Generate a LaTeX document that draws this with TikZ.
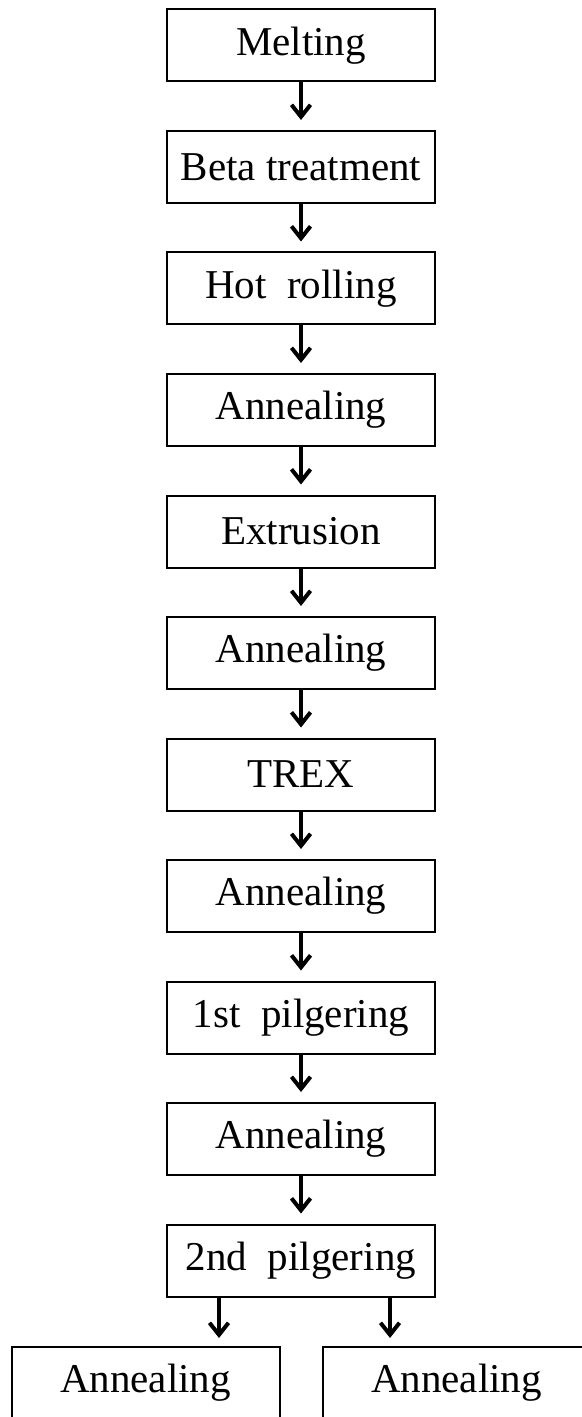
\documentclass[tikz,border=0pt]{standalone}
\usepackage{fontspec}
\setmainfont{Liberation Serif}
\usetikzlibrary{arrows.meta}

\tikzstyle{process} = [rectangle, minimum width=134pt, minimum height=36pt, text centered, draw=black, line width=1pt, font=\fontsize{20.5}{24}\selectfont]
\tikzstyle{arrow} = [-{Straight Barb[length=6pt,width=9.5pt]}, line width=2pt, shorten >=5pt]

\begin{document}
\begin{tikzpicture}[node distance=60.75pt]
		\useasboundingbox (0,0) rectangle (291pt,-708.5pt);
		\clip (0,0) rectangle (291pt,-708.5pt);
		% Nodes
		\node (melting) [process] at (150.5pt,-22.75pt) {Melting};
		\node (beta) [process, below of=melting] {Beta treatment};
		\node (hotroll) [process, below of=beta] {Hot~ rolling};
		\node (anneal1) [process, below of=hotroll] {Annealing};
		\node (extrusion) [process, below of=anneal1] {Extrusion};
		\node (anneal2) [process, below of=extrusion] {Annealing};
		\node (trex) [process, below of=anneal2] {TREX};
		\node (anneal3) [process, below of=trex] {Annealing};
		\node (pilger1) [process, below of=anneal3] {1st~ pilgering};
		\node (anneal4) [process, below of=pilger1] {Annealing};
		\node (pilger2) [process, below of=anneal4] {2nd~ pilgering};
		\node (anneal5) [process, anchor=north] at (72.75pt,-673pt) {Annealing};
		\node (anneal6) [process, anchor=north] at (228.25pt,-673pt) {Annealing};
		\coordinate (forkL) at ([xshift=26.5pt]pilger2.south west);
		\coordinate (forkR) at ([xshift=-23pt]pilger2.south east);
		% Arrows
		\draw [arrow] (melting) -- (beta);
		\draw [arrow] (beta) -- (hotroll);
		\draw [arrow] (hotroll) -- (anneal1);
		\draw [arrow] (anneal1) -- (extrusion);
		\draw [arrow] (extrusion) -- (anneal2);
		\draw [arrow] (anneal2) -- (trex);
		\draw [arrow] (trex) -- (anneal3);
		\draw [arrow] (anneal3) -- (pilger1);
		\draw [arrow] (pilger1) -- (anneal4);
		\draw [arrow] (anneal4) -- (pilger2);
		\draw [arrow, shorten >=4pt] (forkL) -- (forkL |- anneal5.north);
		\draw [arrow, shorten >=4pt] (forkR) -- (forkR |- anneal6.north);
	\end{tikzpicture}
\end{document}
